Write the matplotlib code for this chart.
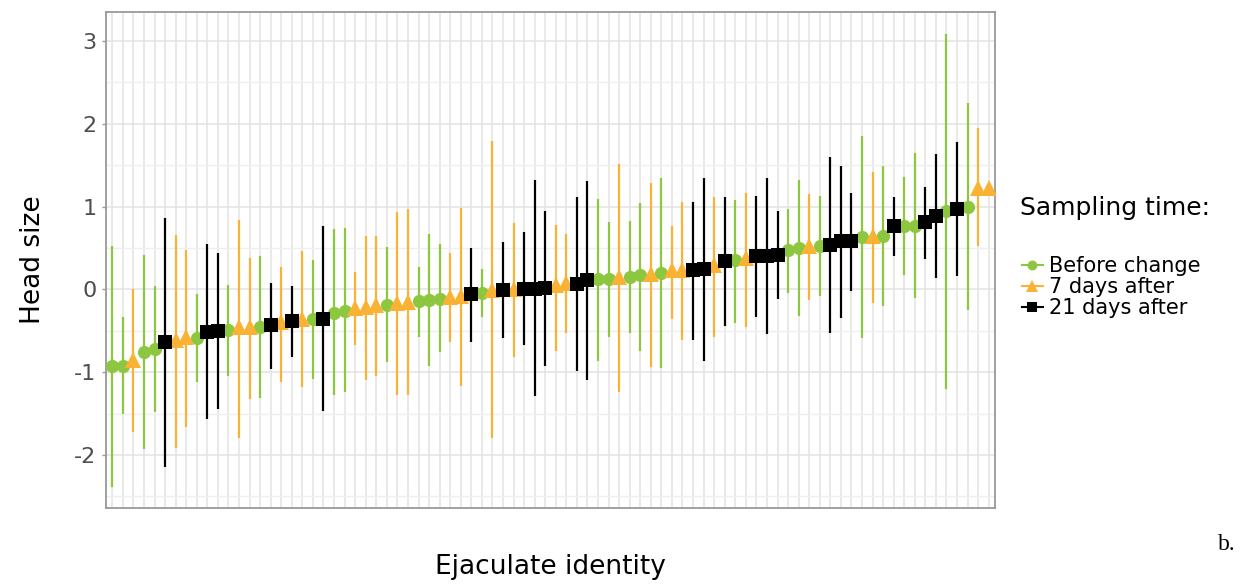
import numpy as np
import matplotlib
matplotlib.use("Agg")
import matplotlib.pyplot as plt
from matplotlib.lines import Line2D

plt.rcParams['font.family'] = ['DejaVu Sans']
plt.rcParams['axes.unicode_minus'] = False

# sampling time of each ejaculate: B = before change, S7 = 7 days after, S21 = 21 days after
sampling = ["B", "B", "S7", "B", "B", "S21", "S7", "S7", "B", "S21",
            "S21", "B", "S7", "S7", "B", "S21", "S7", "S21", "S7", "B",
            "S21", "B", "B", "S7", "S7", "S7", "B", "S7", "S7", "B",
            "B", "B", "S7", "S7", "S21", "B", "S7", "S21", "S7", "S21",
            "S21", "S21", "S7", "S7", "S21", "S21", "B", "B", "S7", "B",
            "B", "S7", "B", "S7", "S7", "S21", "S21", "S7", "S21", "B",
            "S7", "S21", "S21", "S21", "B", "B", "S7", "B", "S21", "S21",
            "S21", "B", "S7", "B", "S21", "B", "B", "S21", "S21", "B",
            "S21", "B", "S7", "S7"]

head_size = [-0.93, -0.93, -0.85, -0.755, -0.72, -0.64, -0.61, -0.58, -0.59, -0.51,
             -0.50, -0.49, -0.46, -0.46, -0.45, -0.43, -0.39, -0.38, -0.36, -0.36,
             -0.36, -0.28, -0.26, -0.23, -0.21, -0.19, -0.19, -0.16, -0.15, -0.14,
             -0.13, -0.12, -0.09, -0.08, -0.06, -0.04, -0.01, -0.01, 0.00, 0.01,
             0.01, 0.02, 0.05, 0.08, 0.07, 0.11, 0.12, 0.12, 0.15, 0.15,
             0.17, 0.19, 0.20, 0.23, 0.23, 0.23, 0.25, 0.29, 0.34, 0.35,
             0.38, 0.40, 0.40, 0.42, 0.48, 0.50, 0.52, 0.525, 0.54, 0.58,
             0.58, 0.63, 0.64, 0.64, 0.77, 0.77, 0.77, 0.81, 0.89, 0.95,
             0.97, 1.00, 1.23, 1.23]

ci_high = [0.52, -0.33, 0.01, 0.42, 0.04, 0.86, 0.66, 0.48, -0.06, 0.55,
           0.44, 0.05, 0.84, 0.38, 0.40, 0.08, 0.27, 0.04, 0.46, 0.36,
           0.76, 0.73, 0.74, 0.21, 0.65, 0.65, 0.51, 0.94, 0.97, 0.27,
           0.67, 0.55, 0.44, 0.98, 0.50, 0.25, 1.79, 0.57, 0.80, 0.69,
           1.32, 0.95, 0.78, 0.67, 1.11, 1.31, 1.09, 0.81, 1.52, 0.83,
           1.04, 1.28, 1.34, 0.77, 1.05, 1.06, 1.35, 1.11, 1.12, 1.08,
           1.16, 1.13, 1.34, 0.95, 0.97, 1.32, 1.15, 1.13, 1.60, 1.49,
           1.16, 1.85, 1.42, 1.49, 1.12, 1.36, 1.65, 1.24, 1.63, 3.08,
           1.78, 2.25, 1.95, np.nan]

ci_low = [-2.39, -1.50, -1.72, -1.93, -1.48, -2.15, -1.91, -1.66, -1.12, -1.56,
          -1.44, -1.05, -1.79, -1.32, -1.31, -0.96, -1.12, -0.82, -1.18, -1.08,
          -1.47, -1.28, -1.24, -0.67, -1.09, -1.05, -0.88, -1.28, -1.28, -0.57,
          -0.92, -0.76, -0.63, -1.17, -0.63, -0.33, -1.80, -0.59, -0.82, -0.67,
          -1.29, -0.92, -0.74, -0.53, -0.98, -1.09, -0.86, -0.57, -1.24, -0.53,
          -0.74, -0.94, -0.95, -0.36, -0.61, -0.61, -0.86, -0.57, -0.44, -0.41,
          -0.45, -0.33, -0.54, -0.12, -0.04, -0.32, -0.13, -0.08, -0.53, -0.35,
          -0.02, -0.59, -0.16, -0.20, 0.40, 0.17, -0.10, 0.37, 0.14, -1.20,
          0.16, -0.25, 0.53, np.nan]

groups = ["B", "S7", "S21"]
labels = ["Before change", "7 days after", "21 days after"]
colors = ["#8DC63F", "#F9B233", "#000000"]
markers = ["o", "^", "s"]
msizes = [9.5, 12, 10]

fig = plt.figure(figsize=(12.4, 5.85), dpi=100)
ax = fig.add_axes([106 / 1240, 1 - 508 / 585, 889 / 1240, 496 / 585])

x = np.arange(len(head_size))
y = np.array(head_size)
lo = np.array(ci_low)
hi = np.array(ci_high)
grp = np.array(sampling)

for g, c in zip(groups, colors):
    sel = grp == g
    ax.vlines(x[sel], lo[sel], hi[sel], color=c, lw=1.6, zorder=2)
for g, c, m, ms in zip(groups, colors, markers, msizes):
    sel = grp == g
    ax.plot(x[sel], y[sel], ls="none", marker=m, ms=ms, color=c,
            markeredgewidth=0, zorder=3)

ax.set_xlim(-0.6, len(head_size) - 1 + 0.6)
ax.set_ylim(-2.64, 3.35)
ax.set_xticks(x)
ax.set_xticklabels([])
ax.tick_params(axis="x", length=0)
ax.set_yticks([-2, -1, 0, 1, 2, 3])
ax.set_yticks([-2.5, -1.5, -0.5, 0.5, 1.5, 2.5], minor=True)
ax.tick_params(axis="y", which="major", length=3, width=1, color="#999999",
               labelsize=16, labelcolor="#4D4D4D", pad=4)
ax.tick_params(axis="y", which="minor", length=0)
ax.grid(True, which="major", color="#E5E5E5", lw=1.2, zorder=0)
ax.grid(True, which="minor", axis="y", color="#EFEFEF", lw=1.0, zorder=0)
ax.set_axisbelow(True)
for s in ax.spines.values():
    s.set_color("#999999")
    s.set_linewidth(1.3)

ax.set_ylabel("Head size", fontsize=19, labelpad=20)
fig.text(550 / 1240, 1 - 567 / 585, "Ejaculate identity", fontsize=19,
         va="center", ha="center")

fig.text(1020 / 1240, 1 - 208 / 585, "Sampling time:", fontsize=18,
         va="center", ha="left")
handles = [Line2D([], [], color=c, marker=m, ms=ms * 0.75, lw=1.5,
                  markeredgewidth=0)
           for c, m, ms in zip(colors, markers, msizes)]
fig.legend(handles, labels, loc="upper left",
           bbox_to_anchor=(1022 / 1240, 1 - 256 / 585), frameon=False,
           fontsize=15, handlelength=1.0, handletextpad=0.3,
           labelspacing=0.05, borderpad=0, borderaxespad=0)

fig.text(1218 / 1240, 1 - 545 / 585, "b.", fontsize=17,
         family="Liberation Serif", va="center", ha="left")

fig.savefig("out.png", dpi=100)
